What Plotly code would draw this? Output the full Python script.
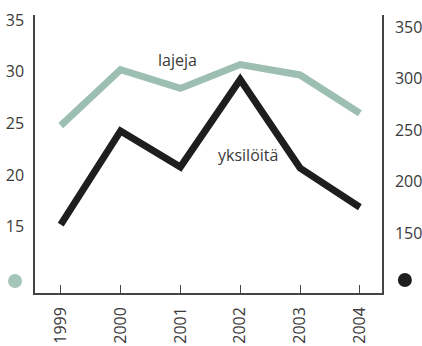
import plotly.graph_objects as go

# Yearly observations
years = ["1999", "2000", "2001", "2002", "2003", "2004"]
species = [24.8, 30.2, 28.4, 30.7, 29.7, 26.0]      # lajeja (left axis)
individuals = [158, 249, 214, 299, 213, 175]         # yksilöitä (right axis)

left_ticks = [15, 20, 25, 30, 35]
right_ticks = [150, 200, 250, 300, 350]

GREEN = "#9dbfb2"
DARK = "#1e1e1e"
TEXT = "#3a3a3a"
FONT = "Open Sans"

xpos = list(range(len(years)))

fig = go.Figure()
fig.add_trace(go.Scatter(
    x=xpos, y=species, mode="lines",
    line=dict(color=GREEN, width=7), yaxis="y", showlegend=False,
))
fig.add_trace(go.Scatter(
    x=xpos, y=individuals, mode="lines",
    line=dict(color=DARK, width=7), yaxis="y2", showlegend=False,
))

axis_line = dict(showline=True, linecolor="#444", linewidth=1.5,
                 showgrid=False, zeroline=False, automargin=False)

fig.update_layout(
    width=422, height=346,
    margin=dict(l=35, r=40, t=15, b=53),
    paper_bgcolor="white", plot_bgcolor="white",
    font=dict(family=FONT, size=16, color=TEXT),
    xaxis=dict(
        range=[-0.43, 5.37], tickvals=xpos, ticktext=years,
        tickangle=-90, ticks="inside", ticklen=8, tickcolor="#444",
        tickwidth=1, ticklabelstandoff=6, **axis_line,
    ),
    yaxis=dict(
        range=[8.6, 35.5], tickvals=left_ticks, ticks="",
        ticklabelstandoff=6, **axis_line,
    ),
    yaxis2=dict(
        range=[91.7, 361.6], tickvals=right_ticks, ticks="",
        overlaying="y", side="right", ticklabelstandoff=8, **axis_line,
    ),
)

# Series markers beside each axis
fig.add_shape(type="circle", xref="paper", yref="paper",
              xsizemode="pixel", ysizemode="pixel",
              xanchor=-0.0576, yanchor=0.043,
              x0=-7, x1=7, y0=-7, y1=7,
              fillcolor="#a5c5b9", line=dict(width=0))
fig.add_shape(type="circle", xref="paper", yref="paper",
              xsizemode="pixel", ysizemode="pixel",
              xanchor=1.066, yanchor=0.047,
              x0=-7, x1=7, y0=-7, y1=7,
              fillcolor=DARK, line=dict(width=0))

fig.add_annotation(text="lajeja", xref="paper", yref="paper",
                   x=0.412, y=0.885, showarrow=False,
                   font=dict(family=FONT, size=16, color=TEXT))
fig.add_annotation(text="yksilöitä", xref="paper", yref="paper",
                   x=0.614, y=0.496, showarrow=False,
                   font=dict(family=FONT, size=16, color=TEXT))

fig.write_html("out.html")
